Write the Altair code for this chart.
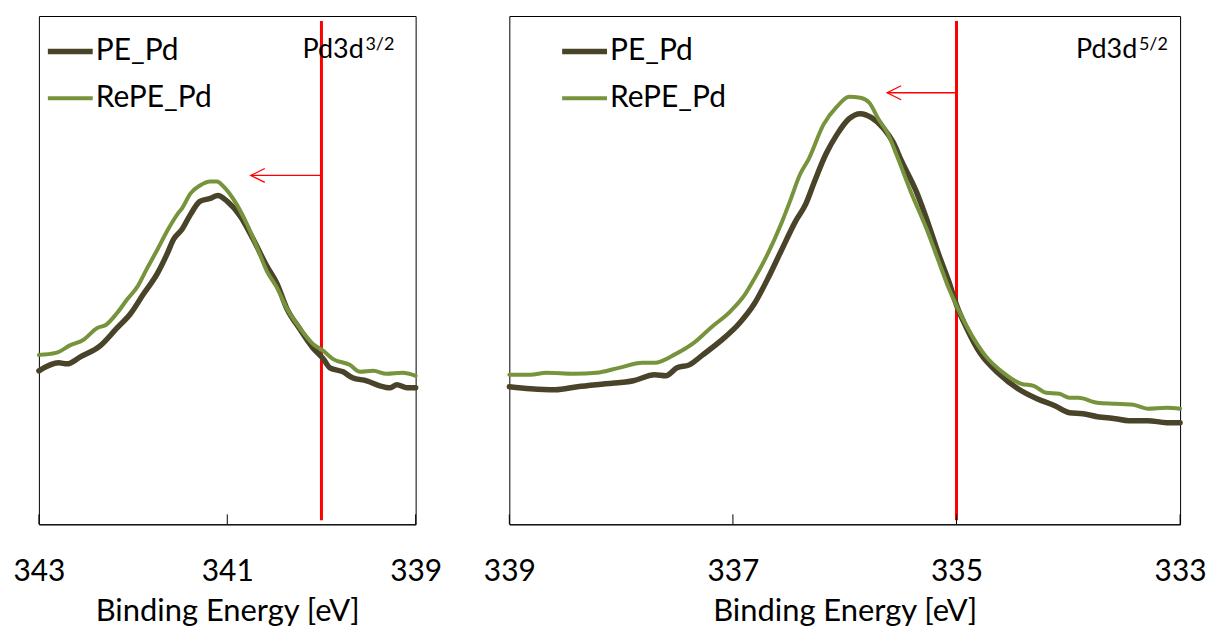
import altair as alt
import pandas as pd

SERIES = ["PE_Pd", "RePE_Pd"]
COLORS = ["#494429", "#77933C"]
LINE_WIDTHS = [5.5, 4]
X_TITLE = "Binding Energy [eV]"
FONT = "Lato"

# ---------------- Left panel: Pd3d 3/2 ----------------
left_pe_ev = [343.00, 342.79, 342.70, 342.56, 342.35, 342.17, 342.03, 341.89, 341.74, 341.64,
              341.57, 341.48, 341.39, 341.29, 341.18, 341.10, 341.00, 340.86, 340.73, 340.58,
              340.47, 340.37, 340.23, 340.09, 339.98, 339.91, 339.77, 339.67, 339.52, 339.38,
              339.27, 339.20, 339.09, 339.00]
left_pe_int = [152, 160, 159, 166, 177, 195, 209, 229, 250, 269,
               284, 294, 309, 322, 325, 328, 322, 307, 285, 257,
               239, 215, 194, 175, 164, 155, 151, 145, 142, 137,
               135, 138, 135, 135]
left_re_ev = [343.00, 342.82, 342.66, 342.53, 342.38, 342.29, 342.17, 342.06, 341.95, 341.85,
              341.74, 341.64, 341.53, 341.48, 341.39, 341.29, 341.18, 341.11, 341.04, 340.90,
              340.79, 340.68, 340.58, 340.47, 340.37, 340.23, 340.09, 339.98, 339.88, 339.70,
              339.59, 339.45, 339.31, 339.14, 339.00]
left_re_int = [168, 170, 178, 183, 195, 198, 210, 224, 237, 255,
               274, 292, 309, 315, 330, 338, 342, 342, 337, 319,
               299, 275, 252, 235, 215, 195, 179, 172, 164, 158,
               151, 152, 149, 150, 147]
left_domain = [339, 343]
left_ticks = [343, 341, 339]
left_marker = [340.0]
left_arrow_tip = [340.75]
left_arrow_y = [348]
left_label = ["Pd3d"]
left_label_sup = ["3/2"]
left_label_ev = [340.20]
left_label_y = [466]

# ---------------- Right panel: Pd3d 5/2 ----------------
right_pe_ev = [339.00, 338.81, 338.59, 338.39, 338.14, 337.89, 337.70, 337.60, 337.50, 337.39,
               337.27, 337.11, 336.94, 336.81, 336.69, 336.57, 336.44, 336.35, 336.27, 336.17,
               336.07, 335.96, 335.86, 335.76, 335.65, 335.57, 335.49, 335.36, 335.26, 335.16,
               335.07, 334.99, 334.91, 334.79, 334.62, 334.45, 334.28, 334.12, 333.99, 333.87,
               333.74, 333.58, 333.46, 333.29, 333.12, 333.00]
right_pe_int = [136, 134, 133, 136, 139, 142, 148, 147, 155, 158,
                168, 182, 200, 219, 244, 272, 302, 319, 342, 369,
                389, 405, 410, 406, 395, 382, 362, 332, 302, 269,
                242, 215, 195, 170, 149, 134, 124, 117, 110, 109,
                106, 104, 102, 102, 100, 100]
right_re_ev = [339.00, 338.81, 338.67, 338.42, 338.22, 338.02, 337.81, 337.70, 337.51, 337.35,
               337.19, 337.02, 336.89, 336.81, 336.69, 336.57, 336.49, 336.40, 336.32, 336.19,
               336.07, 335.96, 335.86, 335.78, 335.70, 335.61, 335.53, 335.41, 335.27, 335.15,
               335.07, 334.99, 334.87, 334.74, 334.58, 334.42, 334.31, 334.20, 334.08, 333.99,
               333.91, 333.74, 333.58, 333.42, 333.29, 333.12, 333.00]
right_re_int = [148, 148, 150, 149, 150, 155, 160, 160, 169, 180,
                196, 212, 229, 244, 269, 299, 322, 349, 365, 399,
                417, 427, 426, 421, 405, 389, 367, 332, 295, 259,
                235, 215, 189, 167, 150, 139, 137, 130, 129, 125,
                125, 120, 119, 118, 114, 115, 114]
right_domain = [333, 339]
right_ticks = [339, 337, 335, 333]
right_marker = [335.0]
right_arrow_tip = [335.62]
right_arrow_y = [431]
right_label = ["Pd3d"]
right_label_sup = ["5/2"]
right_label_ev = [333.93]
right_label_y = [466]

Y_DOMAIN = [-2, 508]
H = 510


def panel(pe_ev, pe_int, re_ev, re_int, domain, ticks, marker, tip, arrow_y,
          label, label_sup, label_ev, label_y, width, legend_x):
    df = pd.DataFrame({
        "ev": pe_ev + re_ev,
        "intensity": pe_int + re_int,
        "series": [SERIES[0]] * len(pe_ev) + [SERIES[1]] * len(re_ev),
    })
    xscale = alt.Scale(domain=domain, reverse=True, nice=False, zero=False)
    yscale = alt.Scale(domain=Y_DOMAIN, nice=False, zero=False)
    x_enc = alt.X("ev:Q", scale=xscale, axis=alt.Axis(
        values=ticks, title=X_TITLE, format="d", ticks=False, tickSize=0,
        grid=False, labelFontSize=30, labelFont=FONT, labelColor="black",
        labelPadding=32, labelFlush=False, labelOverlap=False,
        titleFontSize=31, titleFont=FONT, titleFontWeight="normal",
        titleColor="black", titlePadding=11, domainColor="black",
        domainWidth=1))
    y_enc = alt.Y("intensity:Q", scale=yscale, axis=None)

    legend = alt.Legend(orient="none", legendX=legend_x, legendY=10, title=None,
                        symbolType="stroke", symbolSize=2025, labelFontSize=30,
                        labelFont=FONT, labelColor="black", rowPadding=7,
                        labelOffset=0, padding=0)

    lines = alt.Chart(df).mark_line(strokeCap="round", strokeJoin="round",
                                    interpolate="monotone").encode(
        x=x_enc, y=y_enc,
        color=alt.Color("series:N", scale=alt.Scale(domain=SERIES, range=COLORS), legend=legend),
        strokeWidth=alt.StrokeWidth("series:N", scale=alt.Scale(domain=SERIES, range=LINE_WIDTHS),
                                    legend=legend),
    )

    tick_df = pd.DataFrame({"ev": ticks})
    tick_rules = alt.Chart(tick_df).mark_rule(color="black", strokeWidth=1).encode(
        x=x_enc, y=alt.value(H - 10), y2=alt.value(H))

    marker_df = pd.DataFrame({"ev": marker})
    marker_rule = alt.Chart(marker_df).mark_rule(color="#FF0000", strokeWidth=3).encode(
        x=x_enc, y=alt.value(5), y2=alt.value(H - 4))

    arrow_df = pd.DataFrame({"ev": marker, "ev2": tip, "intensity": arrow_y})
    arrow_line = alt.Chart(arrow_df).mark_rule(color="#FF0000", strokeWidth=1.3).encode(
        x=x_enc, x2="ev2:Q", y=y_enc)
    head_df = pd.DataFrame({"ev": tip, "intensity": arrow_y})
    arrow_head = alt.Chart(head_df).mark_point(
        shape="M2,-1L0,0L2,1", size=196, filled=False, color="#FF0000",
        strokeWidth=1.3, opacity=1).encode(x=x_enc, y=y_enc)

    lab_df = pd.DataFrame({"ev": label_ev, "intensity": label_y,
                           "main": label, "sup": label_sup})
    lab_main = alt.Chart(lab_df).mark_text(
        align="left", baseline="alphabetic", font=FONT, fontSize=27, color="black").encode(
        x=x_enc, y=y_enc, text="main:N")
    lab_sup = alt.Chart(lab_df).mark_text(
        align="left", baseline="alphabetic", font=FONT, fontSize=18, color="black",
        dx=63, dy=-8).encode(x=x_enc, y=y_enc, text="sup:N")

    return alt.layer(marker_rule, tick_rules, lines, arrow_line, arrow_head,
                     lab_main, lab_sup).properties(width=width, height=H)


left = panel(left_pe_ev, left_pe_int, left_re_ev, left_re_int, left_domain, left_ticks,
             left_marker, left_arrow_tip, left_arrow_y, left_label, left_label_sup,
             left_label_ev, left_label_y, 378, 6)
right = panel(right_pe_ev, right_pe_int, right_re_ev, right_re_int, right_domain, right_ticks,
              right_marker, right_arrow_tip, right_arrow_y, right_label, right_label_sup,
              right_label_ev, right_label_y, 673, 50)

chart = alt.hconcat(left, right, spacing=94, bounds="flush").resolve_scale(
    x="independent", y="independent"
).resolve_legend(color="independent", strokeWidth="independent").configure(
    font=FONT, background="white"
).configure_view(
    stroke="#000000", strokeWidth=1
).properties(
    padding={"left": 4, "top": 6, "right": 0, "bottom": 0}
)

chart.save("out.html", embed_options={"renderer": "svg", "actions": False})
